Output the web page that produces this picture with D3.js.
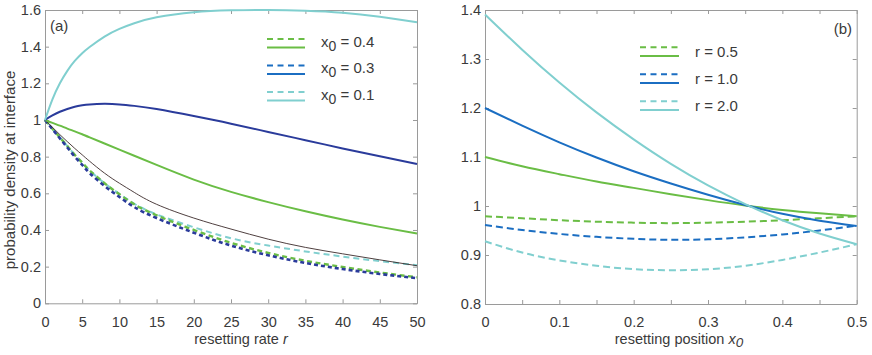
<!DOCTYPE html>
<html>
<head>
<meta charset="utf-8">
<script src="https://cdn.jsdelivr.net/npm/d3@7"></script>
<style>
  body { margin: 0; background: #fff; }
  text { font-family: "Liberation Sans", Arial, sans-serif; fill: #3a3a3a; }
</style>
</head>
<body>
<div id="chart"></div>
<script>
// panel (a): density at interface vs resetting rate r
var rates = [0, 1, 2, 3, 4, 5, 6, 8, 10, 12, 15, 20, 25, 30, 35, 40, 45, 50]
var aSolid04 = [1.0, 0.984, 0.969, 0.953, 0.938, 0.922, 0.905, 0.872, 0.838, 0.805, 0.755, 0.675, 0.608, 0.552, 0.502, 0.457, 0.417, 0.381]
var aSolid03 = [1.0, 1.025, 1.045, 1.06, 1.072, 1.08, 1.085, 1.088, 1.085, 1.077, 1.06, 1.022, 0.98, 0.935, 0.89, 0.845, 0.802, 0.76]
var aSolid01 = [1.0, 1.112, 1.2, 1.268, 1.322, 1.364, 1.398, 1.455, 1.497, 1.528, 1.56, 1.588, 1.598, 1.6, 1.596, 1.585, 1.563, 1.533]
var aDash04 = [1.0, 0.952, 0.905, 0.858, 0.81, 0.768, 0.725, 0.655, 0.595, 0.54, 0.48, 0.4, 0.33, 0.275, 0.232, 0.198, 0.168, 0.142]
var aDash03 = [1.0, 0.95, 0.9, 0.85, 0.8, 0.755, 0.71, 0.64, 0.58, 0.525, 0.465, 0.385, 0.315, 0.262, 0.22, 0.187, 0.16, 0.137]
var aDash01 = [1.0, 0.952, 0.905, 0.858, 0.81, 0.768, 0.725, 0.655, 0.597, 0.543, 0.485, 0.415, 0.355, 0.315, 0.283, 0.255, 0.23, 0.208]
var aBlack = [1.0, 0.96, 0.92, 0.882, 0.845, 0.81, 0.775, 0.71, 0.655, 0.605, 0.54, 0.465, 0.405, 0.35, 0.305, 0.27, 0.237, 0.205]

// panel (b): density at interface vs resetting position x0
var positions = [0, 0.05, 0.1, 0.15, 0.2, 0.25, 0.3, 0.35, 0.4, 0.45, 0.5]
var bSolid05 = [1.1, 1.081, 1.065, 1.05, 1.037, 1.024, 1.012, 1.001, 0.992, 0.985, 0.979]
var bSolid10 = [1.2, 1.164, 1.13, 1.099, 1.071, 1.046, 1.023, 1.002, 0.984, 0.97, 0.959]
var bSolid20 = [1.391, 1.319, 1.252, 1.191, 1.136, 1.086, 1.042, 1.004, 0.971, 0.944, 0.922]
var bDash05 = [0.979, 0.975, 0.971, 0.968, 0.966, 0.965, 0.966, 0.968, 0.971, 0.975, 0.979]
var bDash10 = [0.961, 0.951, 0.943, 0.937, 0.933, 0.931, 0.932, 0.936, 0.942, 0.95, 0.96]
var bDash20 = [0.928, 0.905, 0.889, 0.878, 0.871, 0.869, 0.871, 0.878, 0.89, 0.905, 0.922]

var aTicksY = [0, 0.2, 0.4, 0.6, 0.8, 1, 1.2, 1.4, 1.6]
var aTicksX = [0, 5, 10, 15, 20, 25, 30, 35, 40, 45, 50]
var bTicksY = [0.8, 0.9, 1, 1.1, 1.2, 1.3, 1.4]
var bTicksX = [0, 0.05, 0.1, 0.15, 0.2, 0.25, 0.3, 0.35, 0.4, 0.45, 0.5]

var legendA = ['0.4', '0.3', '0.1']
var legendB = ['0.5', '1.0', '2.0']

var green = '#6abd45'
var navy = '#2a3b9b'
var blue = '#1b6ec2'
var cyan = '#80cfcf'
var frame = '#9a9a9a'

var svg = d3.select('#chart').append('svg')
  .attr('width', 872)
  .attr('height', 355)

function fmt(d) { return String(+d.toFixed(2)) }

function panel(x, y, ticksX, ticksY, labelX) {
  var g = svg.append('g')
  var x0 = x.range()[0], x1 = x.range()[1]
  var y0 = y.range()[0], y1 = y.range()[1]

  g.append('g')
    .attr('transform', 'translate(0,' + y0 + ')')
    .call(d3.axisBottom(x).tickValues(ticksX).tickSizeInner(-4).tickSizeOuter(0).tickPadding(13)
      .tickFormat(function(d) { return labelX(d) ? fmt(d) : '' }))
  g.append('g')
    .attr('transform', 'translate(0,' + y1 + ')')
    .call(d3.axisTop(x).tickValues(ticksX).tickSizeInner(-4).tickSizeOuter(0).tickFormat(''))
  g.append('g')
    .attr('transform', 'translate(' + x0 + ',0)')
    .call(d3.axisLeft(y).tickValues(ticksY).tickSizeInner(-4).tickSizeOuter(0).tickPadding(4).tickFormat(fmt))
  g.append('g')
    .attr('transform', 'translate(' + x1 + ',0)')
    .call(d3.axisRight(y).tickValues(ticksY).tickSizeInner(-4).tickSizeOuter(0).tickFormat(''))

  g.selectAll('.domain, .tick line').attr('stroke', frame).attr('stroke-width', 1)
  g.selectAll('.tick text').style('font-size', '14.5px').attr('fill', '#3a3a3a')
    .style('font-family', '"Liberation Sans", Arial, sans-serif')
  return g
}

function drawLine(g, xs, ys, x, y, color, width, dash) {
  var line = d3.line()
    .x(function(d, i) { return x(xs[i]) })
    .y(function(d) { return y(d) })
    .curve(d3.curveNatural)
  g.append('path')
    .attr('d', line(ys))
    .attr('fill', 'none')
    .attr('stroke', color)
    .attr('stroke-width', width)
    .attr('stroke-dasharray', dash || null)
}

// ---- panel (a)
var xa = d3.scaleLinear().domain([0, 50]).range([45, 417])
var ya = d3.scaleLinear().domain([0, 1.6]).range([303.3, 10])
var ga = panel(xa, ya, aTicksX, aTicksY, function() { return true })

drawLine(ga, rates, aDash01, xa, ya, cyan, 2, '6,4')
drawLine(ga, rates, aDash04, xa, ya, green, 2.4, '5,3.5')
drawLine(ga, rates, aDash03, xa, ya, navy, 2.6, '4,3')
drawLine(ga, rates, aBlack, xa, ya, '#3b2a2a', 0.9)
drawLine(ga, rates, aSolid04, xa, ya, green, 2)
drawLine(ga, rates, aSolid03, xa, ya, navy, 2)
drawLine(ga, rates, aSolid01, xa, ya, cyan, 2)

ga.append('text').attr('x', 50).attr('y', 31).style('font-size', '15px').text('(a)')

var legColsA = [green, blue, cyan]
legendA.forEach(function(v, i) {
  var yy = 47.5 + i * 26.5
  ga.append('line').attr('x1', 267).attr('x2', 305).attr('y1', yy - 8.5).attr('y2', yy - 8.5)
    .attr('stroke', legColsA[i]).attr('stroke-width', 2).attr('stroke-dasharray', '6,4.5')
  ga.append('line').attr('x1', 267).attr('x2', 305).attr('y1', yy).attr('y2', yy)
    .attr('stroke', legColsA[i]).attr('stroke-width', 2)
  var t = ga.append('text').attr('x', 321).attr('y', yy - 1).style('font-size', '15px')
  t.append('tspan').text('x')
  t.append('tspan').attr('dy', 4).style('font-size', '14px').text('0')
  t.append('tspan').attr('dy', -4).text(' = ' + v)
})

ga.append('text').attr('x', 15).attr('y', 170)
  .attr('transform', 'rotate(-90,15,170)')
  .attr('text-anchor', 'middle').style('font-size', '15px')
  .text('probability density at interface')

var ta = ga.append('text').attr('x', 241).attr('y', 344).attr('text-anchor', 'middle').style('font-size', '14.5px')
ta.append('tspan').text('resetting rate ')
ta.append('tspan').style('font-style', 'italic').text('r')

// ---- panel (b)
var xb = d3.scaleLinear().domain([0, 0.5]).range([485, 856.7])
var yb = d3.scaleLinear().domain([0.8, 1.4]).range([304, 10])
var gb = panel(xb, yb, bTicksX, bTicksY, function(d) { return Math.round(d * 100) % 10 === 0 })

drawLine(gb, positions, bDash05, xb, yb, green, 2, '7,4')
drawLine(gb, positions, bDash10, xb, yb, blue, 2, '7,4')
drawLine(gb, positions, bDash20, xb, yb, cyan, 2, '7,4')
drawLine(gb, positions, bSolid05, xb, yb, green, 2)
drawLine(gb, positions, bSolid10, xb, yb, blue, 2)
drawLine(gb, positions, bSolid20, xb, yb, cyan, 2)

gb.append('text').attr('x', 852).attr('y', 34).attr('text-anchor', 'end').style('font-size', '15px').text('(b)')

var legColsB = [green, blue, cyan]
legendB.forEach(function(v, i) {
  var yy = 56 + i * 27
  gb.append('line').attr('x1', 640).attr('x2', 679).attr('y1', yy - 8.7).attr('y2', yy - 8.7)
    .attr('stroke', legColsB[i]).attr('stroke-width', 2).attr('stroke-dasharray', '6,4.5')
  gb.append('line').attr('x1', 640).attr('x2', 679).attr('y1', yy).attr('y2', yy)
    .attr('stroke', legColsB[i]).attr('stroke-width', 2)
  gb.append('text').attr('x', 695).attr('y', yy + 1).style('font-size', '15px').text('r = ' + v)
})

var tb = gb.append('text').attr('x', 679).attr('y', 344).attr('text-anchor', 'middle').style('font-size', '14.5px')
tb.append('tspan').text('resetting position ')
tb.append('tspan').style('font-style', 'italic').text('x')
tb.append('tspan').style('font-style', 'italic').style('font-size', '13.5px').attr('dy', 3).text('0')
</script>
</body>
</html>
